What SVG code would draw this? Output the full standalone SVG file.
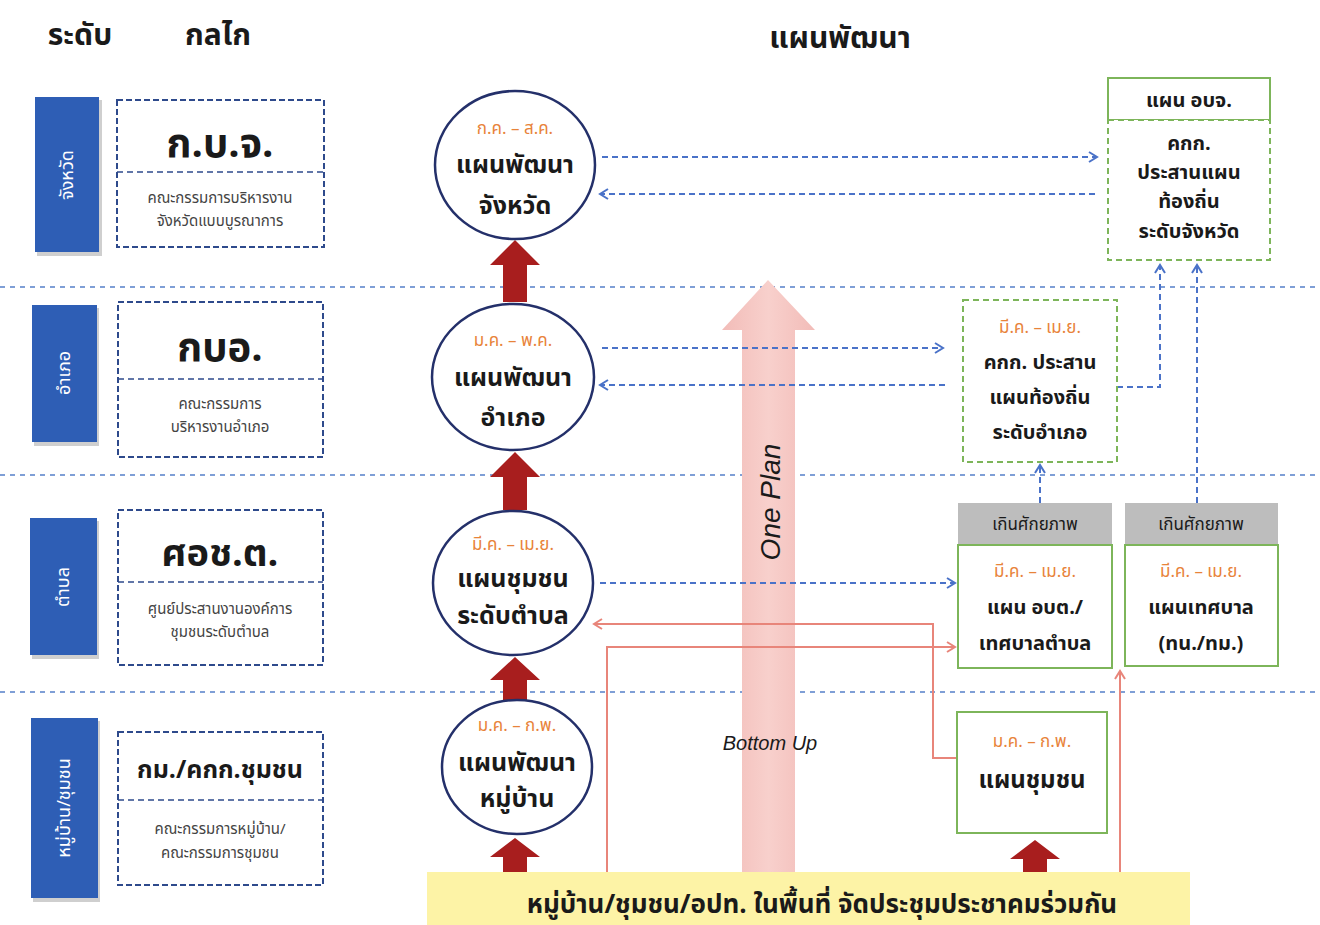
<svg xmlns="http://www.w3.org/2000/svg" width="1320" height="925" viewBox="0 0 1320 925">
<defs>
<style>
text{font-family:"Noto Sans Thai","Noto Sans","DejaVu Sans","Liberation Sans",sans-serif;fill:#1a1a1a}
.hd{font-size:30px;font-weight:bold;text-anchor:middle}
.lv{font-size:18px;fill:#fff;text-anchor:middle;dominant-baseline:central}
.lvbox{fill:#2E5EB5}
.shadow{fill:#cfcfcf}
.mech{fill:#fff;stroke:#2E4A8C;stroke-width:2;stroke-dasharray:6 3}
.div{stroke:#2E4A8C;stroke-width:1.5;stroke-dasharray:6 4;fill:none}
.mt{font-size:40px;font-weight:bold;text-anchor:middle}
.ms{font-size:15px;fill:#444;text-anchor:middle}
.circ{fill:#fff;stroke:#24306A;stroke-width:2.5}
.dt{font-size:17px;fill:#E8833A;text-anchor:middle}
.ct{font-size:25px;font-weight:bold;text-anchor:middle}
.bt{font-size:20px;font-weight:bold;text-anchor:middle}
.sep{stroke:#7F9FD6;stroke-width:2;stroke-dasharray:5 5;fill:none}
.bd{stroke:#4A72C8;stroke-width:2;stroke-dasharray:6 4;fill:none}
.rl{stroke:#E8857A;stroke-width:2;fill:none}
.redarr{fill:#A81E1E}
.gbox{fill:#fff;stroke:#7DB55A;stroke-width:2}
.gdash{fill:#fff;stroke:#7DB55A;stroke-width:2;stroke-dasharray:6 4}
.gray{fill:#BDBDBD}
</style>
<marker id="mb" markerWidth="12" markerHeight="12" refX="10" refY="6" orient="auto" markerUnits="userSpaceOnUse">
<path d="M2,1 L10,6 L2,11" fill="none" stroke="#4A72C8" stroke-width="2"/>
</marker>
<marker id="mr" markerWidth="12" markerHeight="12" refX="10" refY="6" orient="auto" markerUnits="userSpaceOnUse">
<path d="M2,1 L10,6 L2,11" fill="none" stroke="#E8857A" stroke-width="2"/>
</marker>
<linearGradient id="pk" x1="0" y1="0" x2="1" y2="0">
<stop offset="0" stop-color="#F2BCB8"/>
<stop offset="0.5" stop-color="#F8D0CC"/>
<stop offset="1" stop-color="#F2BCB8"/>
</linearGradient>
</defs>
<rect width="1320" height="925" fill="#fff"/>

<!-- headers -->
<g id="headers">
<text class="hd" x="80" y="45">ระดับ</text>
<text class="hd" x="218" y="45">กลไก</text>
<text class="hd" x="840" y="48">แผนพัฒนา</text>
</g>

<!-- separators -->
<g id="separators">
<line class="sep" x1="0" y1="287" x2="1320" y2="287"/>
<line class="sep" x1="0" y1="475" x2="1320" y2="475"/>
<line class="sep" x1="0" y1="692" x2="1320" y2="692"/>
</g>

<!-- level boxes -->
<g id="level-province">
<rect class="shadow" x="37" y="100" width="65" height="156"/>
<rect class="lvbox" x="35" y="97" width="64" height="155"/>
<text class="lv" transform="translate(67,175) rotate(-90)">จังหวัด</text>
</g>
<g id="level-district">
<rect class="shadow" x="34" y="308" width="65" height="138"/>
<rect class="lvbox" x="32" y="305" width="65" height="137"/>
<text class="lv" transform="translate(64,373) rotate(-90)">อำเภอ</text>
</g>
<g id="level-subdistrict">
<rect class="shadow" x="32" y="521" width="67" height="138"/>
<rect class="lvbox" x="30" y="518" width="67" height="137"/>
<text class="lv" transform="translate(63,587) rotate(-90)">ตำบล</text>
</g>
<g id="level-village">
<rect class="shadow" x="33" y="721" width="67" height="181"/>
<rect class="lvbox" x="31" y="718" width="67" height="180"/>
<text class="lv" transform="translate(64,808) rotate(-90)">หมู่บ้าน/ชุมชน</text>
</g>

<!-- mechanism boxes -->
<g id="mech-kbj">
<rect class="mech" x="117" y="100" width="207" height="147"/>
<line class="div" x1="117" y1="172" x2="324" y2="172"/>
<text class="mt" x="220" y="157">ก.บ.จ.</text>
<text class="ms" x="220" y="203">คณะกรรมการบริหารงาน</text>
<text class="ms" x="220" y="226">จังหวัดแบบบูรณาการ</text>
</g>
<g id="mech-kbo">
<rect class="mech" x="118" y="302" width="205" height="155"/>
<line class="div" x1="118" y1="379" x2="323" y2="379"/>
<text class="mt" x="220" y="361">กบอ.</text>
<text class="ms" x="220" y="409">คณะกรรมการ</text>
<text class="ms" x="220" y="432">บริหารงานอำเภอ</text>
</g>
<g id="mech-sorchort">
<rect class="mech" x="118" y="510" width="205" height="155"/>
<line class="div" x1="118" y1="582" x2="323" y2="582"/>
<text class="mt" x="220" y="566" style="font-size:38px">ศอช.ต.</text>
<text class="ms" x="220" y="614">ศูนย์ประสานงานองค์การ</text>
<text class="ms" x="220" y="637">ชุมชนระดับตำบล</text>
</g>
<g id="mech-village">
<rect class="mech" x="118" y="732" width="205" height="153"/>
<line class="div" x1="118" y1="800" x2="323" y2="800"/>
<text class="mt" x="220" y="778" style="font-size:25px">กม./คกก.ชุมชน</text>
<text class="ms" x="220" y="834">คณะกรรมการหมู่บ้าน/</text>
<text class="ms" x="220" y="858">คณะกรรมการชุมชน</text>
</g>

<!-- big pink arrow -->
<g id="one-plan">
<polygon points="768,280 815,330 795,330 795,872 742,872 742,330 722,330" fill="url(#pk)"/>
<text transform="translate(770,502) rotate(-90)" style="font-size:28px;font-style:italic;text-anchor:middle;dominant-baseline:central;font-family:'Liberation Sans',sans-serif">One Plan</text>
</g>
<text x="770" y="750" style="font-size:20px;font-style:italic;text-anchor:middle;font-family:'Liberation Sans',sans-serif">Bottom Up</text>

<!-- yellow bar -->
<g id="community-meeting">
<rect x="427" y="872" width="763" height="53" fill="#FDF3A6"/>
<text x="822" y="913" style="font-size:26px;font-weight:bold;text-anchor:middle">หมู่บ้าน/ชุมชน/อปท. ในพื้นที่ จัดประชุมประชาคมร่วมกัน</text>
</g>

<!-- connectors -->
<g id="connectors">
<line class="bd" x1="602" y1="157" x2="1097" y2="157" marker-end="url(#mb)"/>
<line class="bd" x1="1095" y1="194" x2="600" y2="194" marker-end="url(#mb)"/>
<line class="bd" x1="602" y1="348" x2="943" y2="348" marker-end="url(#mb)"/>
<line class="bd" x1="945" y1="385" x2="600" y2="385" marker-end="url(#mb)"/>
<line class="bd" x1="600" y1="583" x2="955" y2="583" marker-end="url(#mb)"/>
<polyline class="bd" points="1117,387 1160,387 1160,265" marker-end="url(#mb)"/>
<line class="bd" x1="1197" y1="503" x2="1197" y2="265" marker-end="url(#mb)"/>
<line class="bd" x1="1040" y1="503" x2="1040" y2="465" marker-end="url(#mb)"/>
<polyline class="rl" points="607,872 607,647 955,647" marker-end="url(#mr)"/>
<polyline class="rl" points="957,758 933,758 933,624 594,624" marker-end="url(#mr)"/>
<line class="rl" x1="1120" y1="872" x2="1120" y2="671" marker-end="url(#mr)"/>
<polygon class="redarr" points="515,240 540,265 527,265 527,302 503,302 503,265 490,265"/>
<polygon class="redarr" points="515,452 540,477 527,477 527,510 503,510 503,477 490,477"/>
<polygon class="redarr" points="515,657 540,680 527,680 527,700 503,700 503,680 490,680"/>
<polygon class="redarr" points="515,838 540,857 527,857 527,872 503,872 503,857 490,857"/>
<polygon class="redarr" points="1035,840 1060,859 1047,859 1047,872 1023,872 1023,859 1010,859"/>
</g>

<!-- circles -->
<g id="plan-province">
<ellipse class="circ" cx="515" cy="165" rx="80" ry="74"/>
<text class="dt" x="515" y="134">ก.ค. – ส.ค.</text>
<text class="ct" x="515" y="173">แผนพัฒนา</text>
<text class="ct" x="515" y="214">จังหวัด</text>
</g>
<g id="plan-district">
<ellipse class="circ" cx="513" cy="377" rx="81" ry="73"/>
<text class="dt" x="513" y="346">ม.ค. – พ.ค.</text>
<text class="ct" x="513" y="386">แผนพัฒนา</text>
<text class="ct" x="513" y="426">อำเภอ</text>
</g>
<g id="plan-subdistrict">
<ellipse class="circ" cx="513" cy="583" rx="80" ry="72"/>
<text class="dt" x="513" y="550">มี.ค. – เม.ย.</text>
<text class="ct" x="513" y="587">แผนชุมชน</text>
<text class="ct" x="513" y="624">ระดับตำบล</text>
</g>
<g id="plan-village">
<ellipse class="circ" cx="517" cy="767" rx="75" ry="67"/>
<text class="dt" x="517" y="731">ม.ค. – ก.พ.</text>
<text class="ct" x="517" y="771">แผนพัฒนา</text>
<text class="ct" x="517" y="807">หมู่บ้าน</text>
</g>

<!-- right side -->
<g id="pao-plan">
<rect class="gbox" x="1108" y="78" width="162" height="42"/>
<text class="bt" x="1189" y="107">แผน อบจ.</text>
<rect class="gdash" x="1108" y="120" width="162" height="140"/>
<text class="bt" x="1189" y="150">คกก.</text>
<text class="bt" x="1189" y="179">ประสานแผน</text>
<text class="bt" x="1189" y="208">ท้องถิ่น</text>
<text class="bt" x="1189" y="238">ระดับจังหวัด</text>
</g>
<g id="district-coord">
<rect class="gdash" x="963" y="300" width="154" height="162"/>
<text class="dt" x="1040" y="333">มี.ค. – เม.ย.</text>
<text class="bt" x="1040" y="369">คกก. ประสาน</text>
<text class="bt" x="1040" y="404">แผนท้องถิ่น</text>
<text class="bt" x="1040" y="439">ระดับอำเภอ</text>
</g>
<g id="tao-plan">
<rect class="gray" x="958" y="503" width="154" height="42"/>
<text x="1035" y="530" style="font-size:17px;text-anchor:middle">เกินศักยภาพ</text>
<rect class="gbox" x="958" y="545" width="154" height="123"/>
<text class="dt" x="1035" y="577">มี.ค. – เม.ย.</text>
<text class="bt" x="1035" y="614">แผน อบต./</text>
<text class="bt" x="1035" y="650">เทศบาลตำบล</text>
</g>
<g id="municipal-plan">
<rect class="gray" x="1125" y="503" width="153" height="42"/>
<text x="1201" y="530" style="font-size:17px;text-anchor:middle">เกินศักยภาพ</text>
<rect class="gbox" x="1125" y="545" width="153" height="121"/>
<text class="dt" x="1201" y="577">มี.ค. – เม.ย.</text>
<text class="bt" x="1201" y="614">แผนเทศบาล</text>
<text class="bt" x="1201" y="650">(ทน./ทม.)</text>
</g>
<g id="community-plan">
<rect class="gbox" x="957" y="712" width="150" height="121"/>
<text class="dt" x="1032" y="747">ม.ค. – ก.พ.</text>
<text class="bt" x="1032" y="788" style="font-size:24px">แผนชุมชน</text>
</g>
</svg>
